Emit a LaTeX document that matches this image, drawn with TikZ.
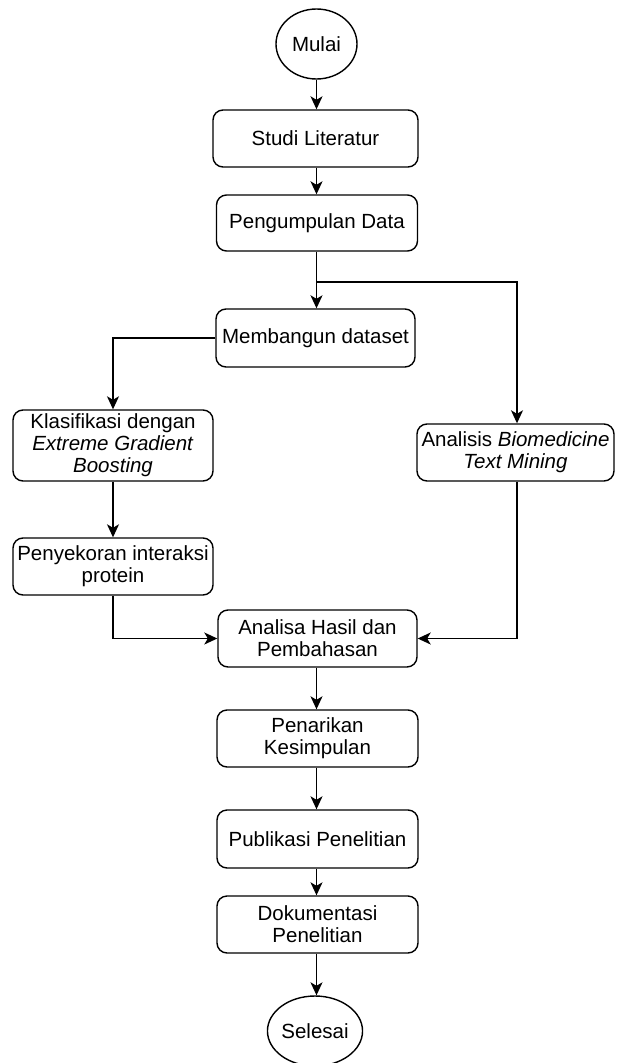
\documentclass[tikz,border=0pt]{standalone}
\usepackage{fontspec}
\setmainfont{Liberation Sans}
\usetikzlibrary{arrows.meta,shapes.geometric}

\tikzset{
  stepbox/.style={draw, line width=1.4pt, rounded corners=10pt, align=center,
    inner sep=0pt, font=\fontsize{20.5}{22}\selectfont},
  terminal/.style={draw, ellipse, line width=1.4pt, inner sep=0pt,
    font=\fontsize{20.5}{22}\selectfont},
  flow/.style={line width=1.4pt, -{Stealth[length=13pt,width=12pt,inset=3.5pt]}},
}

\begin{document}
\begin{tikzpicture}[x=1pt,y=-1pt]
  \fill[white] (0,0) rectangle (617,1063);
  \useasboundingbox (0,0) rectangle (617,1063);

  % terminals
  \node[terminal, minimum width=81pt, minimum height=70pt] (mulai) at (316.5,44) {Mulai};
  \node[terminal, minimum width=84pt, minimum height=70pt] (selesai) at (315,1031) {Selesai};

  % main column
  \node[stepbox, minimum width=205pt, minimum height=57pt] (studi) at (315.5,138.5) {Studi Literatur};
  \node[stepbox, minimum width=201pt, minimum height=56pt] (data) at (317,223) {Pengumpulan Data};
  \node[stepbox, minimum width=199pt, minimum height=58pt] (dataset) at (315.5,338) {Membangun dataset};

  % branches
  \node[stepbox, minimum width=200pt, minimum height=71pt] (xgb) at (113,445.5)
    {Klasifikasi dengan\\\textit{Extreme Gradient}\\\textit{Boosting}};
  \node[stepbox, minimum width=197pt, minimum height=57pt] (text) at (515.5,452.5)
    {Analisis \textit{Biomedicine}\\\textit{Text Mining}};
  \node[stepbox, minimum width=200pt, minimum height=57pt] (skor) at (113,566.5)
    {Penyekoran interaksi\\protein};

  % closing column
  \node[stepbox, minimum width=199pt, minimum height=57pt] (hasil) at (317.5,638.5)
    {Analisa Hasil dan\\Pembahasan};
  \node[stepbox, minimum width=201pt, minimum height=57pt] (simpul) at (317.5,738.5)
    {Penarikan\\Kesimpulan};
  \node[stepbox, minimum width=201pt, minimum height=58pt] (publik) at (317.5,839)
    {Publikasi Penelitian};
  \node[stepbox, minimum width=201pt, minimum height=57pt] (dokumen) at (317.5,924.5)
    {Dokumentasi\\Penelitian};

  % connectors
  \coordinate (split) at (316.5,282);
  \draw[flow] (mulai.south) -- (mulai.south |- studi.north);
  \draw[flow] (studi.south -| mulai.south) -- (mulai.south |- data.north);
  \draw[flow] (data.south -| mulai.south) -- (mulai.south |- dataset.north);
  \draw[flow] (split) -| ([xshift=1.5pt]text.north);
  \draw[flow] (dataset.west) -| (xgb.north);
  \draw[flow] (xgb) -- (skor);
  \draw[flow] (skor.south) |- (hasil.west);
  \draw[flow] ([xshift=1.5pt]text.south) |- (hasil.east);
  \draw[flow] (hasil.south -| mulai.south) -- (mulai.south |- simpul.north);
  \draw[flow] (simpul.south -| mulai.south) -- (mulai.south |- publik.north);
  \draw[flow] (publik.south -| mulai.south) -- (mulai.south |- dokumen.north);
  \draw[flow] (dokumen.south -| mulai.south) -- (mulai.south |- selesai.north);
\end{tikzpicture}
\end{document}
